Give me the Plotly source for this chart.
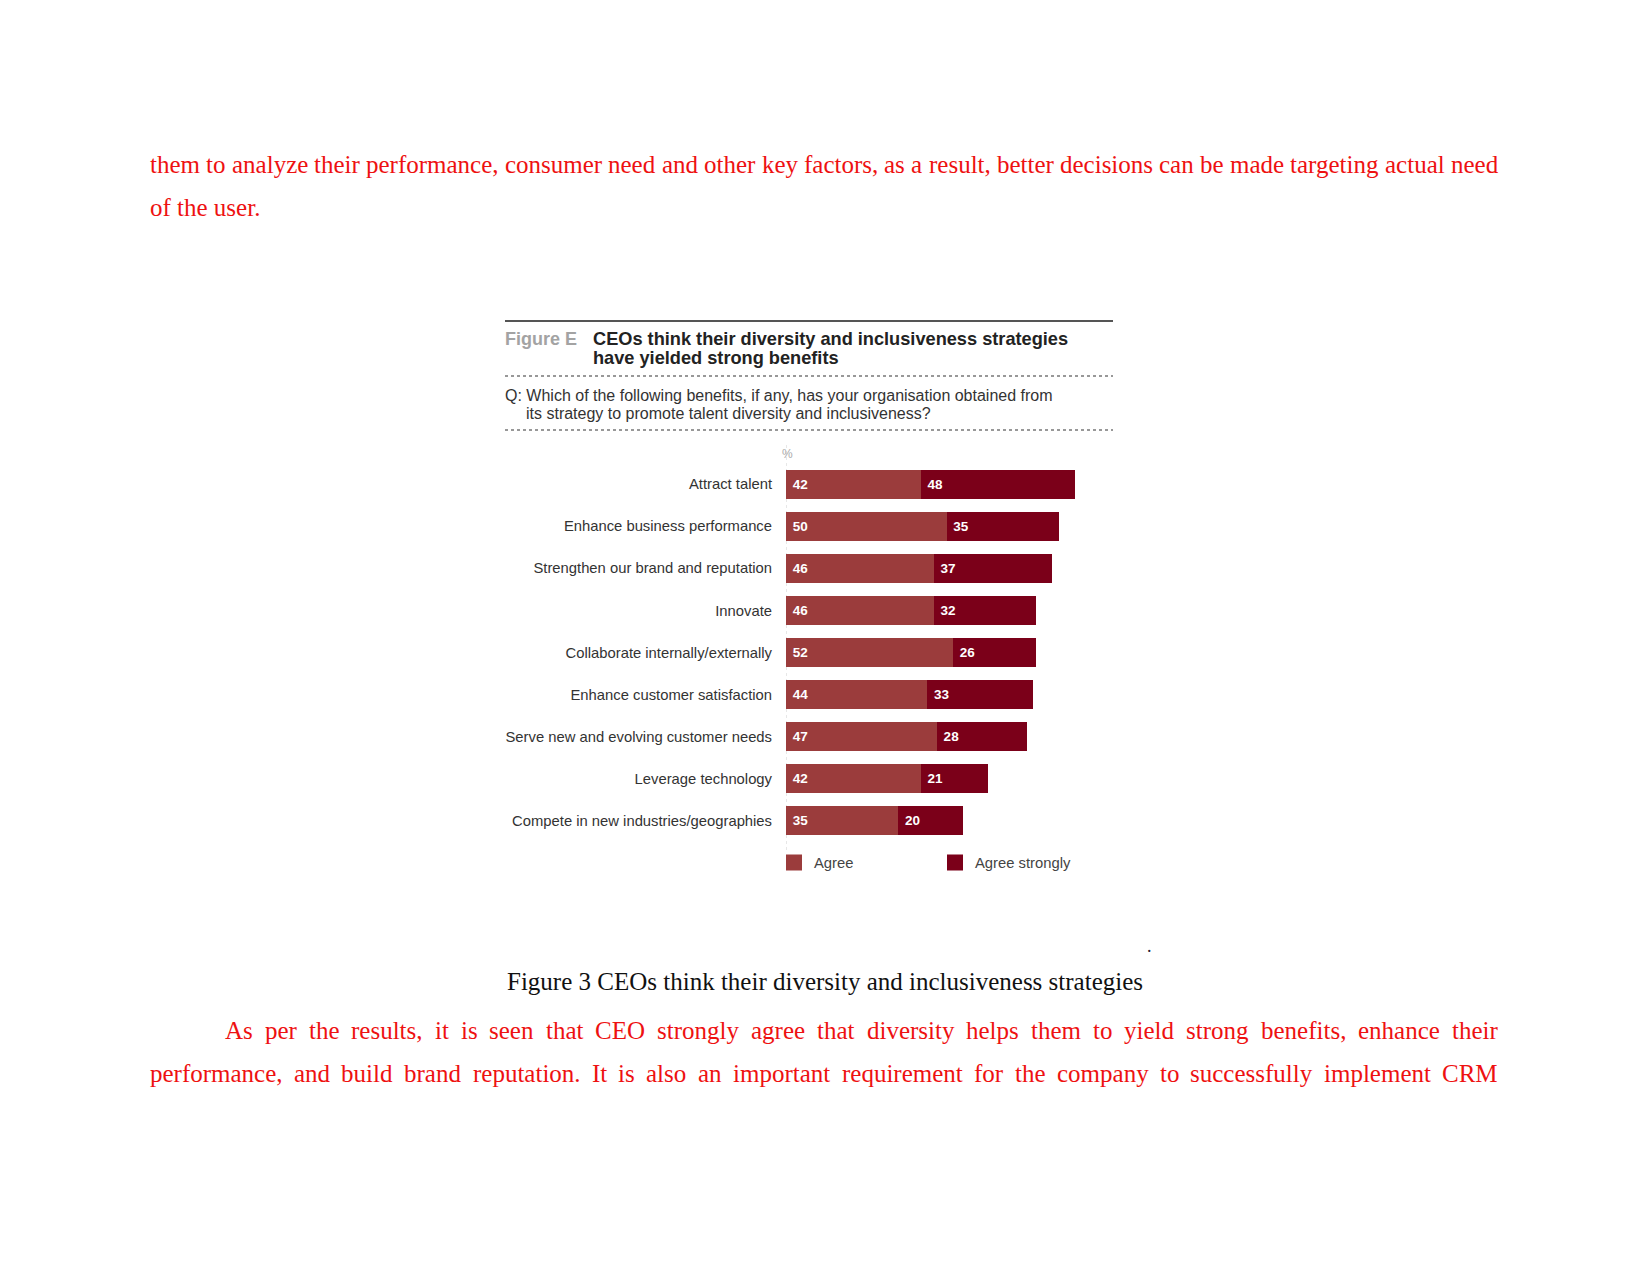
import plotly.graph_objects as go

W, H = 1650, 1275

# ---------------- data ----------------
categories = [
    "Attract talent",
    "Enhance business performance",
    "Strengthen our brand and reputation",
    "Innovate",
    "Collaborate internally/externally",
    "Enhance customer satisfaction",
    "Serve new and evolving customer needs",
    "Leverage technology",
    "Compete in new industries/geographies",
]
agree = [42, 50, 46, 46, 52, 44, 47, 42, 35]
agree_strongly = [48, 35, 37, 32, 26, 33, 28, 21, 20]
series_names = ["Agree", "Agree strongly"]

fig_label = "Figure E"
title_lines = ["CEOs think their diversity and inclusiveness strategies",
               "have yielded strong benefits"]
question_lines = ["Q: Which of the following benefits, if any, has your organisation obtained from",
                  "its strategy to promote talent diversity and inclusiveness?"]
unit_label = "%"
caption = "Figure 3 CEOs think their diversity and inclusiveness strategies"
para_top = ["them to analyze their performance, consumer need and other key factors, as a result, better decisions can be made targeting actual need",
            "of the user."]
para_bottom = ["As per the results, it is seen that CEO strongly agree that diversity helps them to yield strong benefits, enhance their",
               "performance, and build brand reputation. It is also an important requirement for the company to successfully implement CRM"]

# ---------------- styles ----------------
C_AGREE = "#9b3c3c"
C_STRONG = "#7b0019"
RED = "#ee1111"
SANS = "Liberation Sans, Arial, sans-serif"
SERIF = "Liberation Serif, Times New Roman, serif"

def px(x):
    return x / W

def py(y):
    return 1 - y / H

# plot area in pixels
X0, PXU = 786, 3.21
XMAX = 100
Y_TOP, Y_BOT = 463, 842

fig = go.Figure()
fig.add_trace(go.Bar(
    y=categories, x=agree, orientation="h", name=series_names[0],
    marker=dict(color=C_AGREE, line=dict(width=0)),
    text=agree, texttemplate="\u00a0%{text}", textposition="inside",
    insidetextanchor="start", textangle=0, constraintext="none",
    textfont=dict(color="white", size=13.5, family=SANS, weight="bold"),
    showlegend=False, hoverinfo="skip",
))
fig.add_trace(go.Bar(
    y=categories, x=agree_strongly, orientation="h", name=series_names[1],
    marker=dict(color=C_STRONG, line=dict(width=0)),
    text=agree_strongly, texttemplate="\u00a0%{text}", textposition="inside",
    insidetextanchor="start", textangle=0, constraintext="none",
    textfont=dict(color="white", size=13.5, family=SANS, weight="bold"),
    showlegend=False, hoverinfo="skip",
))
# legend entries (native legend with larger square symbols)
for nm, col in zip(series_names, [C_AGREE, C_STRONG]):
    fig.add_trace(go.Scatter(
        x=[None], y=[None], mode="markers", name=nm,
        marker=dict(symbol="square", size=16, color=col),
        showlegend=True, hoverinfo="skip",
    ))

fig.update_layout(
    width=W, height=H, autosize=False,
    margin=dict(l=0, r=0, t=0, b=0, pad=0),
    paper_bgcolor="white", plot_bgcolor="white",
    barmode="stack", bargap=0.31,
    showlegend=True,
    legend=dict(
        orientation="h", traceorder="normal",
        x=px(774), y=py(863), xanchor="left", yanchor="middle",
        font=dict(family=SANS, size=14.8, color="#444"),
        entrywidth=116, entrywidthmode="pixels",
        bgcolor="rgba(0,0,0,0)", borderwidth=0, itemclick=False,
    ),
    xaxis=dict(
        domain=[px(X0), px(X0 + PXU * XMAX)], range=[0, XMAX],
        visible=False, fixedrange=True,
    ),
    yaxis=dict(
        domain=[py(Y_BOT), py(Y_TOP)],
        type="category", categoryorder="array", categoryarray=categories,
        range=[len(categories) - 0.5, -0.5],
        showgrid=False, zeroline=False, showline=False, ticks="",
        ticklabelstandoff=13,
        tickfont=dict(family=SANS, size=14.8, color="#333"),
        fixedrange=True,
    ),
)

shapes = []
# header rule and dotted separators
shapes.append(dict(type="line", xref="paper", yref="paper", x0=px(505), x1=px(1113),
                   y0=py(321), y1=py(321), line=dict(color="#555", width=2)))
for yy in (376, 430):
    shapes.append(dict(type="line", xref="paper", yref="paper", x0=px(505), x1=px(1113),
                       y0=py(yy), y1=py(yy), line=dict(color="#777", width=1.5, dash="dot")))
# faint baseline at zero
shapes.append(dict(type="line", xref="x", yref="paper", x0=0, x1=0,
                   y0=py(850), y1=py(445), line=dict(color="#d0d0d0", width=1, dash="dot"),
                   layer="below"))
fig.update_layout(shapes=shapes)

ann = []
def add_text(text, x, y, size, color, family=SANS, bold=False, xanchor="left", yanchor="middle"):
    ann.append(dict(text=text, x=px(x), y=py(y), xref="paper", yref="paper",
                    xanchor=xanchor, yanchor=yanchor, showarrow=False,
                    borderpad=0, borderwidth=0,
                    font=dict(family=family, size=size, color=color,
                              weight="bold" if bold else "normal")))

add_text(fig_label, 505, 339, 18, "#a3a3a3", bold=True)
add_text(title_lines[0], 593, 339, 18.2, "#222", bold=True)
add_text(title_lines[1], 593, 358, 18.2, "#222", bold=True)
add_text(question_lines[0], 505, 396, 16, "#333")
add_text(question_lines[1], 526, 413, 16, "#333")
add_text(unit_label, 782, 454, 12, "#aaa")
add_text(caption, 825, 981, 25, "#111", family=SERIF, xanchor="center")
add_text(".", 1149, 946, 18, "#223", family=SERIF, xanchor="center")

# Times-Roman advance widths (per 1000 em) for justification of body text
TW = {' ': 250, ',': 250, '.': 250, '-': 333,
      'a': 444, 'b': 500, 'c': 444, 'd': 500, 'e': 444, 'f': 333, 'g': 500, 'h': 500,
      'i': 278, 'j': 278, 'k': 500, 'l': 278, 'm': 778, 'n': 500, 'o': 500, 'p': 500,
      'q': 500, 'r': 333, 's': 389, 't': 278, 'u': 500, 'v': 500, 'w': 722, 'x': 500,
      'y': 500, 'z': 444,
      'A': 722, 'B': 667, 'C': 667, 'D': 722, 'E': 611, 'F': 556, 'G': 722, 'H': 722,
      'I': 333, 'J': 389, 'K': 722, 'L': 611, 'M': 889, 'N': 722, 'O': 722, 'P': 556,
      'R': 667, 'S': 556, 'T': 611}
BODY = 25

def wwidth(w):
    return sum(TW.get(c, 500) for c in w) * BODY / 1000.0

def justified(line, x_left, x_right, y):
    words = line.split(" ")
    tot = sum(wwidth(w) for w in words)
    gap = (x_right - x_left - tot) / (len(words) - 1)
    x = x_left
    for w in words:
        add_text(w, x, y, BODY, RED, family=SERIF)
        x += wwidth(w) + gap

justified(para_top[0], 150, 1498, 165)
add_text(para_top[1], 150, 208, BODY, RED, family=SERIF)
justified(para_bottom[0], 225, 1498, 1030)
justified(para_bottom[1], 150, 1498, 1073)

fig.update_layout(annotations=ann)

fig.write_html("out.html", config={"displayModeBar": False, "staticPlot": True})
